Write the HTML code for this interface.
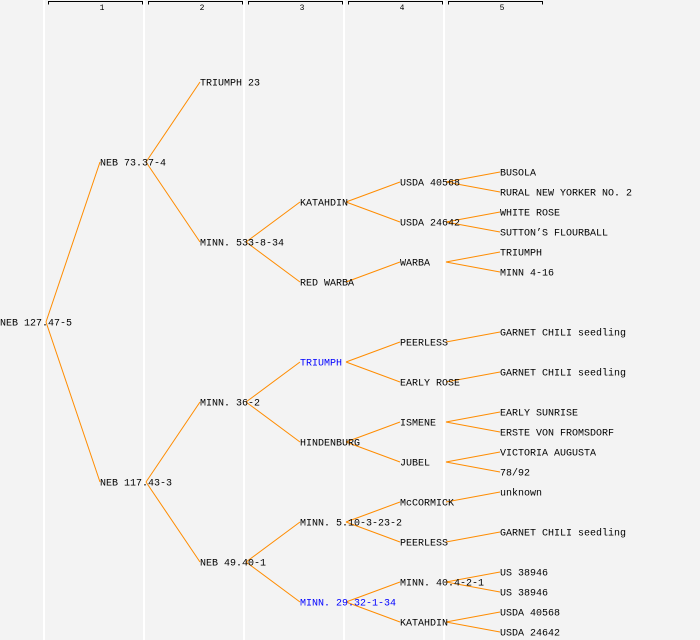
<!DOCTYPE html>
<html><head><meta charset="utf-8"><style>
html,body{margin:0;padding:0;background:#f3f3f3;}
svg{display:block}
text{font-family:"Liberation Mono","DejaVu Sans Mono",monospace;font-size:10px;fill:#000;}
</style></head><body>
<svg width="700" height="640" xmlns="http://www.w3.org/2000/svg">
<rect width="700" height="640" fill="#f3f3f3"/>
<g stroke="#fff" stroke-width="2">
<line x1="44" y1="0" x2="44" y2="640"/><line x1="144" y1="0" x2="144" y2="640"/><line x1="244" y1="0" x2="244" y2="640"/><line x1="344" y1="0" x2="344" y2="640"/><line x1="444" y1="0" x2="444" y2="640"/>
</g>
<g stroke="#000" stroke-width="1" fill="none">
<path d="M48.5 4.5V1.5H142.5V4.5"/><path d="M148.5 4.5V1.5H242.5V4.5"/><path d="M248.5 4.5V1.5H342.5V4.5"/><path d="M348.5 4.5V1.5H442.5V4.5"/><path d="M448.5 4.5V1.5H542.5V4.5"/>
</g>
<g text-anchor="middle">
<text x="102" y="10" style="font-size:8px">1</text><text x="202" y="10" style="font-size:8px">2</text><text x="302" y="10" style="font-size:8px">3</text><text x="402" y="10" style="font-size:8px">4</text><text x="502" y="10" style="font-size:8px">5</text>
</g>
<g stroke="#ff8c00" stroke-width="1" fill="none">
<path d="M46 322L100 162M46 322L100 482"/>
<path d="M146 162L200 82M146 162L200 242M146 482L200 402M146 482L200 562"/>
<path d="M246 242L300 202M246 242L300 282M246 402L300 362M246 402L300 442M246 562L300 522M246 562L300 602"/>
<path d="M346 202L400 182M346 202L400 222M346 282L400 262M346 362L400 342M346 362L400 382M346 442L400 422M346 442L400 462M346 522L400 502M346 522L400 542M346 602L400 582M346 602L400 622"/>
<path d="M446 182L500 172M446 182L500 192M446 222L500 212M446 222L500 232M446 262L500 252M446 262L500 272M446 342L500 332M446 382L500 372M446 422L500 412M446 422L500 432M446 462L500 452M446 462L500 472M446 502L500 492M446 542L500 532M446 582L500 572M446 582L500 592M446 622L500 612M446 622L500 632"/>
</g>
<g dominant-baseline="central" transform="translate(0,2)">
<text x="0" y="322">NEB 127.47-5</text>
<text x="100" y="162">NEB 73.37-4</text>
<text x="100" y="482">NEB 117.43-3</text>
<text x="200" y="82">TRIUMPH 23</text>
<text x="200" y="242">MINN. 533-8-34</text>
<text x="200" y="402">MINN. 36-2</text>
<text x="200" y="562">NEB 49.40-1</text>
<text x="300" y="202">KATAHDIN</text>
<text x="300" y="282">RED WARBA</text>
<text x="300" y="362" style="fill:#0000ff">TRIUMPH</text>
<text x="300" y="442">HINDENBURG</text>
<text x="300" y="522">MINN. 5.10-3-23-2</text>
<text x="300" y="602" style="fill:#0000ff">MINN. 29.32-1-34</text>
<text x="400" y="182">USDA 40568</text>
<text x="400" y="222">USDA 24642</text>
<text x="400" y="262">WARBA</text>
<text x="400" y="342">PEERLESS</text>
<text x="400" y="382">EARLY ROSE</text>
<text x="400" y="422">ISMENE</text>
<text x="400" y="462">JUBEL</text>
<text x="400" y="502">McCORMICK</text>
<text x="400" y="542">PEERLESS</text>
<text x="400" y="582">MINN. 40.4-2-1</text>
<text x="400" y="622">KATAHDIN</text>
<text x="500" y="172">BUSOLA</text>
<text x="500" y="192">RURAL NEW YORKER NO. 2</text>
<text x="500" y="212">WHITE ROSE</text>
<text x="500" y="232">SUTTON’S FLOURBALL</text>
<text x="500" y="252">TRIUMPH</text>
<text x="500" y="272">MINN 4-16</text>
<text x="500" y="332">GARNET CHILI seedling</text>
<text x="500" y="372">GARNET CHILI seedling</text>
<text x="500" y="412">EARLY SUNRISE</text>
<text x="500" y="432">ERSTE VON FROMSDORF</text>
<text x="500" y="452">VICTORIA AUGUSTA</text>
<text x="500" y="472">78/92</text>
<text x="500" y="492">unknown</text>
<text x="500" y="532">GARNET CHILI seedling</text>
<text x="500" y="572">US 38946</text>
<text x="500" y="592">US 38946</text>
<text x="500" y="612">USDA 40568</text>
<text x="500" y="632">USDA 24642</text>
</g>
</svg>
</body></html>
